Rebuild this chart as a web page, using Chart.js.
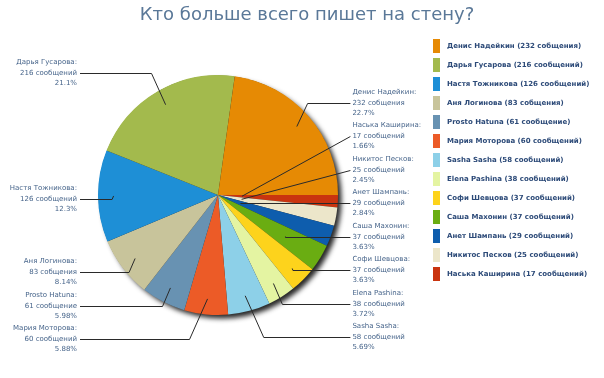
<!DOCTYPE html>
<html><head><meta charset="utf-8">
<script src="https://cdn.jsdelivr.net/npm/chart.js@4.4.1/dist/chart.umd.min.js"></script>
<style>html,body{margin:0;padding:0;background:#fff;}canvas{display:block;}</style>
</head><body>
<canvas id="c" width="604" height="378"></canvas>
<script>
const TITLE = 'Кто больше всего пишет на стену?';
const names = ['Денис Надейкин','Дарья Гусарова','Настя Тожникова','Аня Логинова','Prosto Hatuna','Мария Моторова','Sasha Sasha','Elena Pashina','Софи Шевцова','Саша Махонин','Анет Шампань','Никитос Песков','Наська Каширина'];
const counts = [232,216,126,83,61,60,58,38,37,37,29,25,17];
const words = ['собщения','сообщений','сообщений','собщения','сообщение','сообщений','сообщений','сообщений','сообщений','сообщений','сообщений','сообщений','сообщений'];
const colors = ['#E68A04','#A3BA4D','#1E8FD6','#C8C49B','#6892B2','#EC5B27','#8DD0E8','#E4F4A2','#FDD31C','#6AAD12','#0E5DAD','#ECE6CA','#C9340F'];

const total = counts.reduce((a,b)=>a+b,0);
function pct(v){
  const p = v/total*100;
  const d = p >= 10 ? 1 : 2;
  const f = Math.pow(10,d);
  return (Math.floor(p*f+1e-9)/f).toFixed(d) + '%';
}
const n = counts.length;
const dsData = counts.slice().reverse();
const dsColors = colors.slice().reverse();

const shadowPlugin = {
  id:'shadow',
  beforeDatasetsDraw(chart){
    const arc = chart.getDatasetMeta(0).data[0];
    if(!arc) return;
    const ctx = chart.ctx;
    ctx.save();
    ctx.shadowColor = 'rgba(0,0,0,0.85)';
    ctx.shadowBlur = 5;
    ctx.shadowOffsetX = 4;
    ctx.shadowOffsetY = 4;
    ctx.beginPath();
    ctx.arc(arc.x, arc.y, arc.outerRadius-0.5, 0, Math.PI*2);
    ctx.fillStyle = '#222';
    ctx.fill();
    ctx.restore();
  }
};

const labelPlugin = {
  id:'labels',
  afterDatasetsDraw(chart){
    const meta = chart.getDatasetMeta(0);
    const ctx = chart.ctx;
    const arcs = meta.data;
    const cx = arcs[0].x, cy = arcs[0].y, r = arcs[0].outerRadius;
    const items = [];
    arcs.forEach((a,j)=>{
      const i = n-1-j;
      const mid = (a.startAngle + a.endAngle)/2;
      const right = Math.cos(mid) >= 0;
      items.push({i, mid, right, nat: cy + 3 + Math.sin(mid)*r*1.2});
    });
    const gap = 33.5;
    const minY = 60, maxY = cy + r*1.2;
    [true,false].forEach(side=>{
      const s = items.filter(o=>o.right===side).sort((a,b)=>a.nat-b.nat);
      for(let k=s.length-1;k>=0;k--){
        const lim = k===s.length-1 ? maxY : s[k+1].y - gap;
        s[k].y = Math.min(s[k].nat, lim);
      }
      for(let k=0;k<s.length;k++){
        const lim = k===0 ? minY : s[k-1].y + gap;
        s[k].y = Math.max(s[k].y, lim);
      }
    });
    ctx.save();
    ctx.font = '7px "DejaVu Sans"';
    items.forEach(o=>{
      const sn = Math.sin(o.mid), cs = Math.cos(o.mid);
      const tx = o.right ? cx + r*1.12 : cx - r*1.175;
      const sx = o.right ? tx - 2 : tx + 3;
      let t, straight = false;
      const dy = o.y - cy;
      if (Math.abs(sn) > 1e-6 && dy/sn > 0) {
        t = dy/sn;
      } else { t = 0; straight = true; }
      t = Math.max(0.2*r, Math.min(0.87*r, t));
      const px = cx + cs*t, py = cy + sn*t;
      let ex = straight ? sx : px + (o.right?1:-1)*Math.abs(o.y-py)*0.45;
      if (o.right) ex = Math.min(ex, sx); else ex = Math.max(ex, sx);
      ctx.strokeStyle = '#2a2a2a';
      ctx.lineWidth = 1;
      ctx.beginPath();
      ctx.moveTo(sx, Math.round(o.y)+0.5);
      ctx.lineTo(ex, Math.round(o.y)+0.5);
      ctx.lineTo(px, py);
      ctx.stroke();
      ctx.fillStyle = '#46648A';
      ctx.textAlign = o.right ? 'left' : 'right';
      ctx.textBaseline = 'middle';
      const lines = [names[o.i] + ':', counts[o.i] + ' ' + words[o.i], pct(counts[o.i])];
      lines.forEach((ln,k)=>ctx.fillText(ln, tx, Math.round(o.y) + (k-1)*10.5));
    });
    ctx.restore();
  },
  afterDraw(chart){
    const ctx = chart.ctx;
    ctx.save();
    ctx.font = '18px "DejaVu Sans"';
    ctx.fillStyle = '#5A7898';
    ctx.textAlign = 'center';
    ctx.textBaseline = 'middle';
    ctx.fillText(TITLE, 307, 15);
    ctx.font = 'bold 7px "DejaVu Sans"';
    ctx.textAlign = 'left';
    names.forEach((nm,i)=>{
      const yc = 46 + i*19;
      ctx.fillStyle = colors[i];
      ctx.fillRect(433, yc-7, 7, 14);
      ctx.fillStyle = '#2C4A78';
      ctx.fillText(nm + ' (' + counts[i] + ' ' + words[i] + ')', 447, yc);
    });
    ctx.restore();
  }
};

new Chart(document.getElementById('c'), {
  type:'pie',
  data:{
    labels: names.slice().reverse(),
    datasets:[{data: dsData, backgroundColor: dsColors, borderWidth: 0}]
  },
  options:{
    responsive:false,
    animation:false,
    rotation:90,
    layout:{padding:{left:98,right:266,top:75,bottom:63}},
    plugins:{legend:{display:false}, tooltip:{enabled:false}, title:{display:false}}
  },
  plugins:[shadowPlugin, labelPlugin]
});
</script>
</body></html>
